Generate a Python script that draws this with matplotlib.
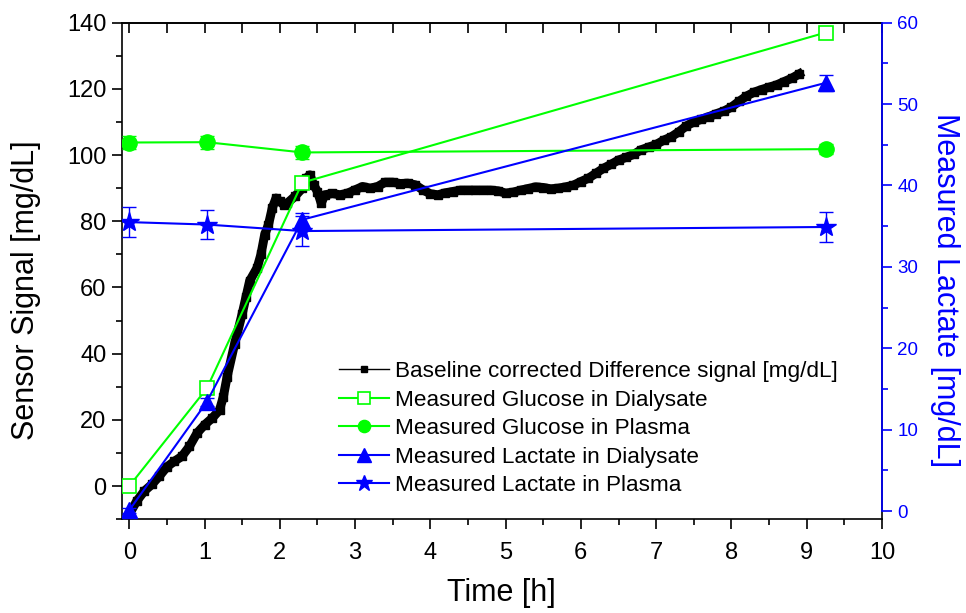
import numpy as np
import matplotlib
matplotlib.use('Agg')
import matplotlib.pyplot as plt
from matplotlib.ticker import MultipleLocator

plt.rcParams['font.family'] = ['Liberation Sans', 'DejaVu Sans']

# Baseline corrected difference signal (left axis, mg/dL)
t_signal = [0.0, 0.1, 0.2, 0.3, 0.4, 0.5, 0.6, 0.7, 0.8, 0.9,
            1.0, 1.1, 1.2, 1.25, 1.3, 1.4, 1.5, 1.55, 1.6, 1.7,
            1.75, 1.8, 1.85, 1.9, 1.95, 2.0, 2.05, 2.1, 2.2, 2.3,
            2.35, 2.4, 2.45, 2.5, 2.55, 2.6, 2.7, 2.8, 2.9, 3.0,
            3.1, 3.2, 3.3, 3.4, 3.5, 3.6, 3.7, 3.8, 3.9, 4.0,
            4.1, 4.2, 4.3, 4.4, 4.5, 4.6, 4.7, 4.8, 4.9, 5.0,
            5.1, 5.2, 5.3, 5.4, 5.5, 5.6, 5.7, 5.8, 5.9, 6.0,
            6.1, 6.2, 6.3, 6.4, 6.5, 6.6, 6.7, 6.8, 6.9, 7.0,
            7.1, 7.2, 7.3, 7.4, 7.5, 7.6, 7.7, 7.8, 7.9, 8.0,
            8.1, 8.2, 8.3, 8.4, 8.5, 8.6, 8.7, 8.8, 8.9]
v_signal = [-8.5, -4.5, -1.5, 0.5, 3.0, 5.8, 7.5, 9.0, 12.0, 16.0,
            18.5, 20.5, 23.0, 27.0, 33.0, 43.0, 52.0, 57.0, 62.0, 66.0,
            70.0, 76.0, 79.0, 84.0, 87.0, 86.0, 85.0, 85.5, 87.5, 90.0,
            93.0, 94.0, 91.0, 89.0, 85.5, 88.0, 88.4, 88.0, 88.5, 89.5,
            90.5, 90.0, 90.5, 91.8, 91.8, 91.4, 91.5, 91.0, 89.5, 88.3,
            88.0, 88.6, 89.0, 89.4, 89.4, 89.4, 89.4, 89.4, 89.2, 88.5,
            88.8, 89.4, 89.9, 90.4, 90.2, 89.8, 90.0, 90.4, 90.9, 92.0,
            93.0, 94.5, 96.0, 97.2, 98.5, 99.3, 100.2, 101.6, 102.4, 103.2,
            104.5, 105.5, 107.0, 108.8, 110.0, 110.8, 111.6, 112.5, 113.3, 114.5,
            116.2, 117.8, 119.0, 119.8, 120.5, 121.2, 122.2, 123.2, 124.5]

# Sampling times of reference measurements [h]
t_meas = [0.0, 1.03, 2.3, 9.25]

glucose_dialysate = [0.0, 29.5, 91.7, 137.0]
glucose_dialysate_err = [0.5, 1.0, 0.5, 1.5]
glucose_plasma = [103.8, 103.9, 100.8, 101.8]
glucose_plasma_err = [2.0, 2.0, 2.0, 1.5]

lactate_dialysate = [0.1, 13.4, 35.8, 52.6]
lactate_dialysate_err = [0.3, 0.5, 0.8, 1.0]
lactate_plasma = [35.5, 35.2, 34.4, 34.9]
lactate_plasma_err = [1.8, 1.8, 1.8, 1.8]

legend_labels = ['Baseline corrected Difference signal [mg/dL]',
                 'Measured Glucose in Dialysate',
                 'Measured Glucose in Plasma',
                 'Measured Lactate in Dialysate',
                 'Measured Lactate in Plasma']

GREEN = '#00ff00'
BLUE = '#0000ff'

fig = plt.figure(figsize=(9.66, 6.13), dpi=100)
ax = fig.add_axes([0.126, 0.153, 0.787, 0.810])

# thick trace underneath, then the marked series for the legend
ax.plot(t_signal, v_signal, color='k', lw=6.5, zorder=2)
h_sig, = ax.plot(t_signal, v_signal, color='k', lw=1, marker='s', ms=6, zorder=2)

e1 = ax.errorbar(t_meas, glucose_dialysate, yerr=glucose_dialysate_err, color=GREEN,
                 marker='s', ms=10, mfc='white', mew=1.2, lw=1.5, capsize=5,
                 elinewidth=1, zorder=3)
e2 = ax.errorbar(t_meas, glucose_plasma, yerr=glucose_plasma_err, color=GREEN,
                 marker='o', ms=11, lw=1.5, capsize=5, elinewidth=1, zorder=3)

ax.set_xlim(-0.1, 10)
ax.set_ylim(-10, 140)
ax.xaxis.set_major_locator(MultipleLocator(1))
ax.xaxis.set_minor_locator(MultipleLocator(0.5))
ax.yaxis.set_major_locator(MultipleLocator(20))
ax.yaxis.set_minor_locator(MultipleLocator(10))
ax.tick_params(axis='both', which='major', direction='out', length=7.5, width=1.2,
               labelsize=17)
ax.tick_params(axis='both', which='minor', direction='out', length=4.5, width=1.2)
ax.tick_params(axis='x', pad=9)
for s in ax.spines.values():
    s.set_linewidth(1.2)

top = ax.secondary_xaxis('top')
top.xaxis.set_major_locator(MultipleLocator(1))
top.xaxis.set_minor_locator(MultipleLocator(0.5))
top.tick_params(which='major', direction='in', length=7.5, width=1.2, labeltop=False)
top.tick_params(which='minor', direction='in', length=7.5, width=1.2)
top.spines['top'].set_linewidth(1.2)

ax.set_xlabel('Time [h]', fontsize=22, labelpad=10)
ax.set_ylabel('Sensor Signal [mg/dL]', fontsize=22, labelpad=19)
ax.yaxis.label.set_y(0.461)

# right axis: lactate
ax2 = ax.twinx()
e3 = ax2.errorbar(t_meas, lactate_dialysate, yerr=lactate_dialysate_err, color=BLUE,
                  marker='^', ms=12, lw=1.5, capsize=5, elinewidth=1, zorder=3)
e4 = ax2.errorbar(t_meas, lactate_plasma, yerr=lactate_plasma_err, color=BLUE,
                  marker='*', ms=15, lw=1.5, capsize=5, elinewidth=1, zorder=3)
ax2.set_ylim(-1, 60)
ax2.yaxis.set_major_locator(MultipleLocator(10))
ax2.yaxis.set_minor_locator(MultipleLocator(5))
ax2.tick_params(which='major', direction='out', length=7, width=1.2,
                colors=BLUE, labelsize=13.5, pad=4)
ax2.tick_params(which='minor', direction='out', length=4.5, width=1.2, colors=BLUE)
ax2.spines['right'].set_color(BLUE)
ax2.spines['right'].set_linewidth(1.2)
ax2.spines['right'].set_bounds(0, 60)
for k in ('left', 'top', 'bottom'):
    ax2.spines[k].set_visible(False)
ax2.set_ylabel('Measured Lactate [mg/dL]', fontsize=22, color=BLUE,
               rotation=-90, labelpad=30)
ax2.yaxis.label.set_y(0.461)

handles = [h_sig, e1[0], e2[0], e3[0], e4[0]]
leg = fig.legend(handles, legend_labels, loc='upper left',
                 bbox_to_anchor=(0.351, 0.4105),
                 frameon=False, fontsize=16.2, borderpad=0, borderaxespad=0,
                 handlelength=2.2, handletextpad=0.3, labelspacing=0.33,
                 markerscale=0.8)

fig.savefig('out.png', dpi=100)
